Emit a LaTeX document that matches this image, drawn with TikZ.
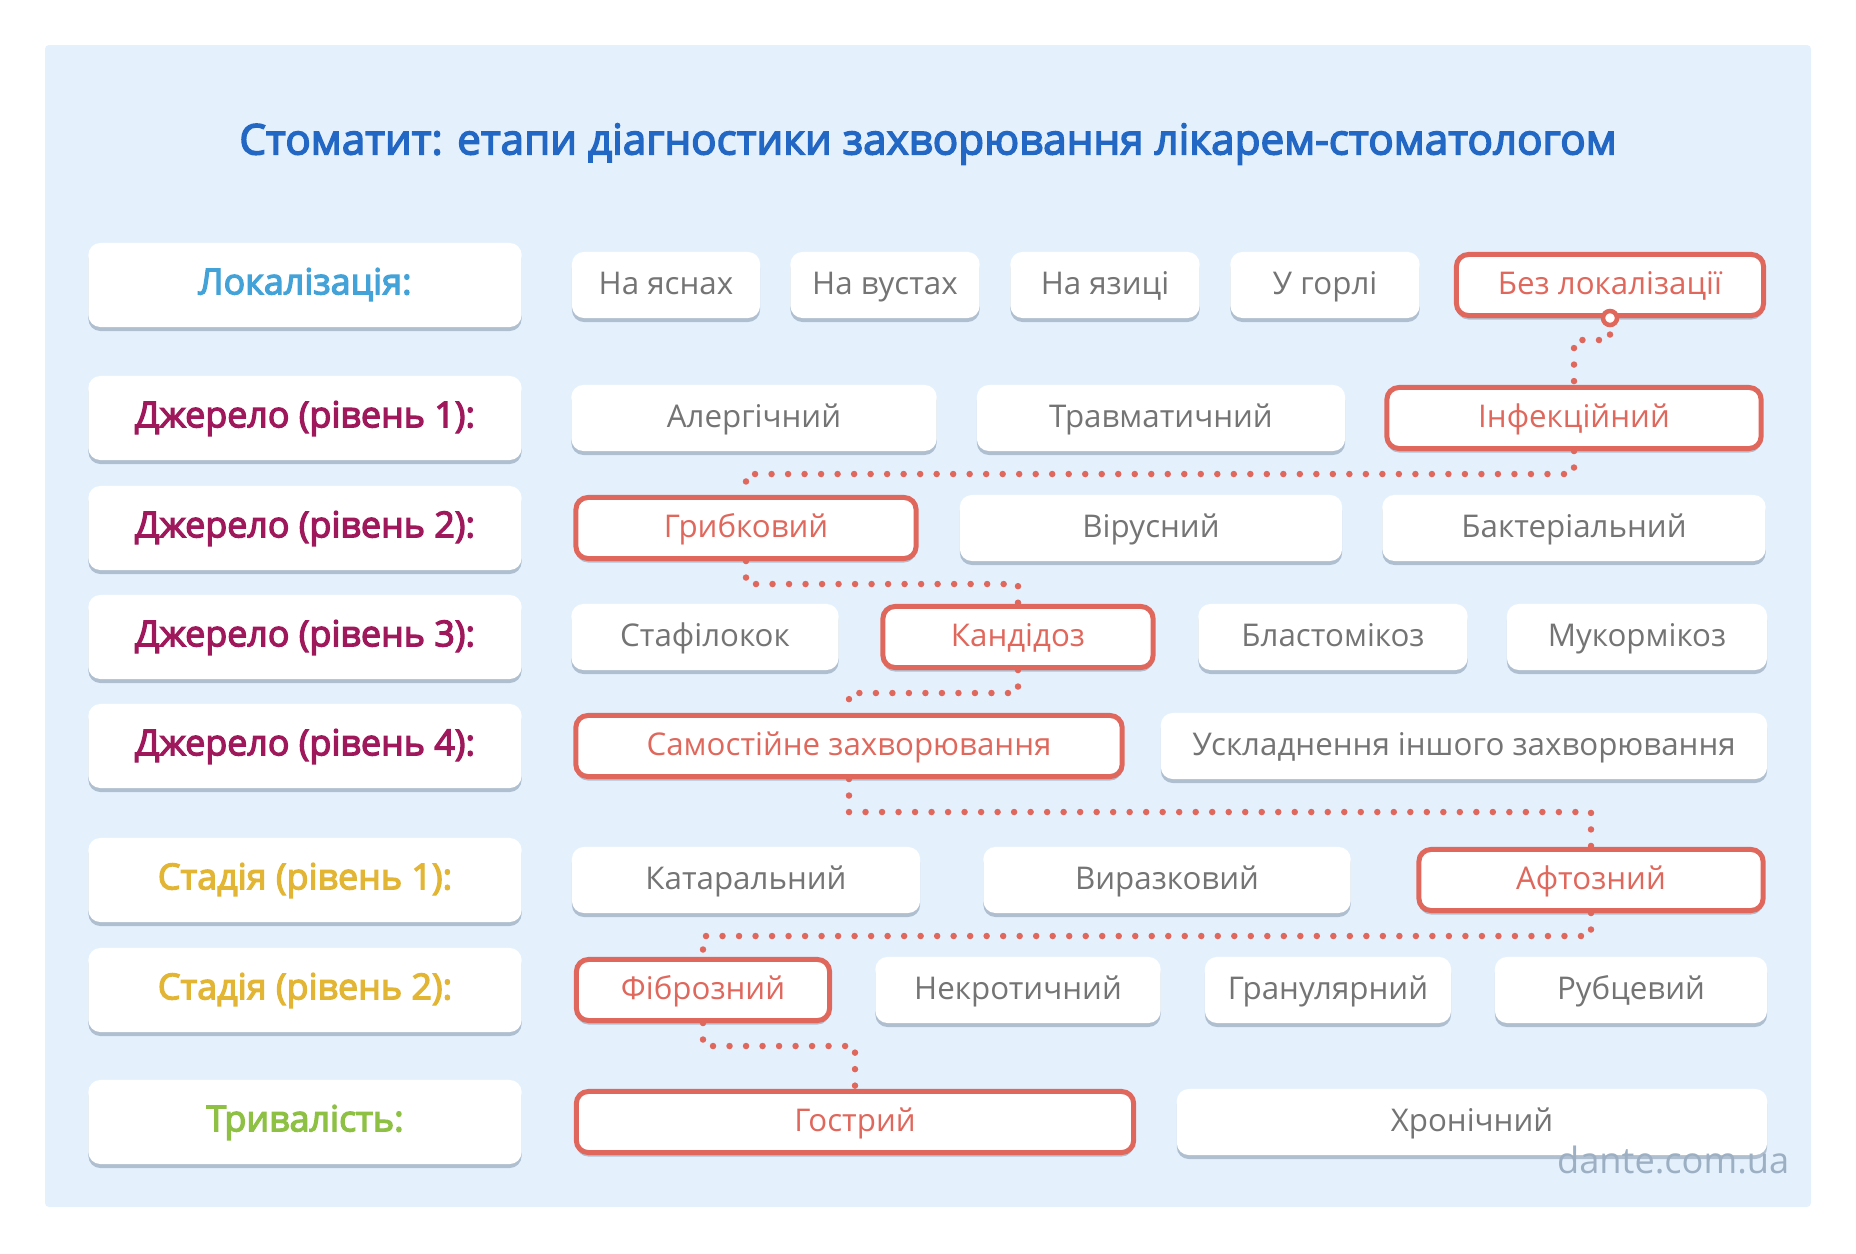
\documentclass[tikz,border=0pt]{standalone}
\usepackage{fontspec}
\setmainfont{Open Sans}[BoldFont={Open Sans}, BoldFeatures={FakeBold=3.5}]
\usetikzlibrary{shadows}

\definecolor{panelbg}{HTML}{E4F1FD}
\definecolor{titleblue}{HTML}{2267C4}
\definecolor{lokblue}{HTML}{43A2D8}
\definecolor{dzpurple}{HTML}{A0185C}
\definecolor{stgold}{HTML}{E3B535}
\definecolor{trgreen}{HTML}{8DC043}
\definecolor{boxgrey}{HTML}{747474}
\definecolor{selred}{HTML}{E0675C}
\definecolor{shadowc}{HTML}{B0BFCF}
\definecolor{markc}{HTML}{9CAFC3}

\begin{document}
\begin{tikzpicture}[x=0.01cm,y=-0.01cm,
    cat/.style={fill=white, rounded corners=0.12cm, minimum width=4.33cm,
      minimum height=0.84cm, font=\fontsize{10.2}{12}\selectfont\bfseries,
      text height=0.75em, text depth=0.22em,
      drop shadow={shadow xshift=0cm, shadow yshift=-0.04cm, fill=shadowc, opacity=1}},
    opt/.style={fill=white, rounded corners=0.12cm, minimum height=0.66cm,
      text=boxgrey, font=\fontsize{8.9}{10.5}\selectfont,
      text height=0.75em, text depth=0.22em,
      drop shadow={shadow xshift=0cm, shadow yshift=-0.04cm, fill=shadowc, opacity=1}},
    sel/.style={opt, draw=selred, line width=0.05cm, minimum height=0.61cm, text=selred},
    path/.style={selred, line width=0.065cm, line cap=round, dash pattern=on 0pt off 0.165cm}]
  \useasboundingbox (0,0) rectangle (1856,1254);
  \fill[panelbg, rounded corners=0.04cm] (45,45) rectangle (1811,1207);

  \node[titleblue, font=\fontsize{12}{14}\selectfont\bfseries] (title) at (928,144)
    {Стоматит: етапи діагностики захворювання лікарем-стоматологом};

  % row labels
  \node[cat, text=lokblue]   (lok) at (305,285)  {Локалізація:};
  \node[cat, text=dzpurple]  (dz1) at (305,418)  {Джерело (рівень 1):};
  \node[cat, text=dzpurple]  (dz2) at (305,528)  {Джерело (рівень 2):};
  \node[cat, text=dzpurple]  (dz3) at (305,637)  {Джерело (рівень 3):};
  \node[cat, text=dzpurple]  (dz4) at (305,746)  {Джерело (рівень 4):};
  \node[cat, text=stgold]    (st1) at (305,880)  {Стадія (рівень 1):};
  \node[cat, text=stgold]    (st2) at (305,990)  {Стадія (рівень 2):};
  \node[cat, text=trgreen]   (tr)  at (305,1122) {Тривалість:};

  % localisation
  \node[opt, minimum width=1.88cm] (yasny)  at (666,285)  {На яснах};
  \node[opt, minimum width=1.89cm] (vusta)  at (885,285)  {На вустах};
  \node[opt, minimum width=1.89cm] (yazyk)  at (1105,285) {На язиці};
  \node[opt, minimum width=1.89cm] (gorlo)  at (1325,285) {У горлі};
  \node[sel, minimum width=3.07cm] (bezlok) at (1610,285) {Без локалізації};

  % source 1
  \node[opt, minimum width=3.65cm] (alerg) at (754,418)  {Алергічний};
  \node[opt, minimum width=3.68cm] (travm) at (1161,418) {Травматичний};
  \node[sel, minimum width=3.74cm] (infek) at (1574,418) {Інфекційний};

  % source 2
  \node[sel, minimum width=3.40cm] (gryb)  at (746,528)  {Грибковий};
  \node[opt, minimum width=3.82cm] (virus) at (1151,528) {Вірусний};
  \node[opt, minimum width=3.83cm] (bakt)  at (1574,528) {Бактеріальний};

  % source 3
  \node[opt, minimum width=2.67cm] (staf)  at (705,637)  {Стафілокок};
  \node[sel, minimum width=2.70cm] (kand)  at (1018,637) {Кандідоз};
  \node[opt, minimum width=2.69cm] (blast) at (1333,637) {Бластомікоз};
  \node[opt, minimum width=2.60cm] (mukor) at (1637,637) {Мукормікоз};

  % source 4
  \node[sel, minimum width=5.46cm] (samost) at (849,746)  {Самостійне захворювання};
  \node[opt, minimum width=6.06cm] (uskl)   at (1464,746) {Ускладнення іншого захворювання};

  % stage 1
  \node[opt, minimum width=3.48cm] (katar) at (746,880)  {Катаральний};
  \node[opt, minimum width=3.67cm] (vyraz) at (1167,880) {Виразковий};
  \node[sel, minimum width=3.44cm] (aftoz) at (1591,880) {Афтозний};

  % stage 2
  \node[sel, minimum width=2.53cm] (fibr)   at (703,990)  {Фіброзний};
  \node[opt, minimum width=2.85cm] (nekr)   at (1018,990) {Некротичний};
  \node[opt, minimum width=2.46cm] (granul) at (1328,990) {Гранулярний};
  \node[opt, minimum width=2.72cm] (rubc)   at (1631,990) {Рубцевий};

  % duration
  \node[sel, minimum width=5.57cm] (gostr) at (855,1122)  {Гострий};
  \node[opt, minimum width=5.90cm] (hron)  at (1472,1122) {Хронічний};

  % diagnosis path
  \draw[path] (bezlok.south) -- ++(0,22) -| (infek.north);
  \draw[path] (infek.south)  -- ++(0,23) -| (gryb.north);
  \draw[path] (gryb.south)   -- ++(0,23) -| (kand.north);
  \draw[path] (kand.south)   -- ++(0,23) -| (samost.north);
  \draw[path] (samost.south) -- ++(0,33) -| (aftoz.north);
  \draw[path] (aftoz.south)  -- ++(0,23) -| (fibr.north);
  \draw[path] (fibr.south)   -- ++(0,23) -| (gostr.north);
  \draw[selred, fill=white, line width=0.045cm] (bezlok.south) circle [radius=0.07cm];

  \node[markc, font=\fontsize{10.3}{12}\selectfont, anchor=east, inner sep=0pt] (mark) at (1790,1160) {dante.com.ua};
\end{tikzpicture}
\end{document}
